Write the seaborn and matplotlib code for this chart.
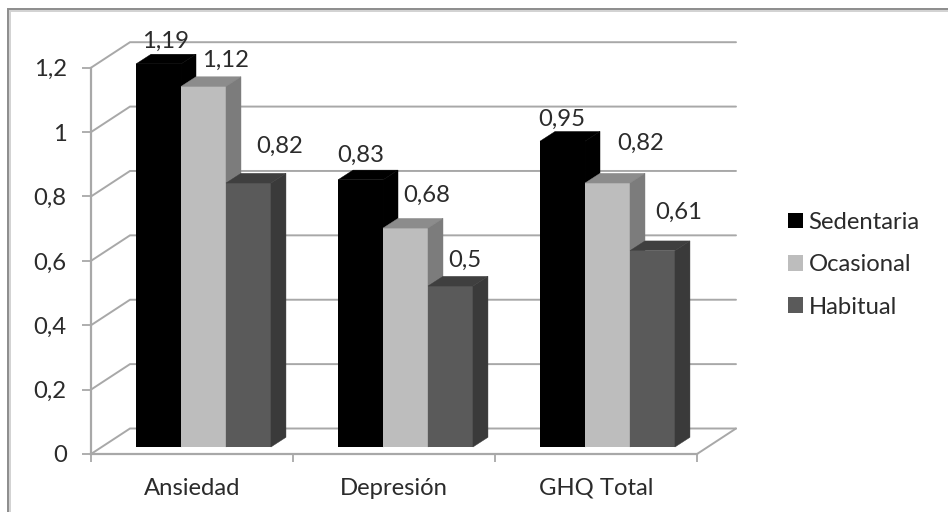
import matplotlib
matplotlib.use("Agg")
import matplotlib.pyplot as plt
from matplotlib.lines import Line2D
from matplotlib.patches import Polygon, Patch
import pandas as pd
import seaborn as sns

categories = ["Ansiedad", "Depresión", "GHQ Total"]
series_names = ["Sedentaria", "Ocasional", "Habitual"]
sedentaria = [1.19, 0.83, 0.95]
ocasional = [1.12, 0.68, 0.82]
habitual = [0.82, 0.50, 0.61]
value_labels = ["1,19", "0,83", "0,95", "1,12", "0,68", "0,82", "0,82", "0,5", "0,61"]
y_ticks = [0, 0.2, 0.4, 0.6, 0.8, 1.0, 1.2]
y_tick_labels = ["0", "0,2", "0,4", "0,6", "0,8", "1", "1,2"]

front_colors = ["#000000", "#BDBDBD", "#5A5A5A"]
top_colors = ["#000000", "#8C8C8C", "#3F3F3F"]
side_colors = ["#000000", "#7C7C7C", "#3A3A3A"]
label_offsets_px = [(7, 23), (0, 24), (-1, 22), (22, 26), (21, 33), (33, 40), (31, 37), (14, 26), (26, 38)]

W, H = 948, 512
GRID = "#A8A8A8"
TEXT = "#2B2B2B"
FS = 17.2

sns.set_theme(style="white")
plt.rcParams["font.family"] = ["Lato", "DejaVu Sans"]

df = pd.DataFrame({
    "cat": categories * 3,
    "serie": [s for s in series_names for _ in categories],
    "valor": sedentaria + ocasional + habitual,
})


def axes_px(fig, left, right, top, bottom, **kw):
    return fig.add_axes([left / W, 1 - bottom / H, (right - left) / W, (bottom - top) / H], **kw)


fig = plt.figure(figsize=(W / 100, H / 100), dpi=100, facecolor="white")
# Frame: only the top and left edges reach into the picture
for offset, colour in [(1.5, "#D2D2D2"), (0, "#8C8C8C")]:
    fig.add_artist(Line2D([(8 + offset) / W, (8 + offset) / W, 1],
                          [0, 1 - (9 + offset) / H, 1 - (9 + offset) / H],
                          transform=fig.transFigure, color=colour, lw=1.4,
                          solid_joinstyle="miter"))

# Main axes: the walls, floor and the tick labels
ax = axes_px(fig, 91, 697, 67.7, 454)
ax.set_xlim(-0.5, 2.5)
ax.set_ylim(0, 1.2)
ax.patch.set_alpha(0)
for s in ["top", "right"]:
    ax.spines[s].set_visible(False)
for s in ["left", "bottom"]:
    ax.spines[s].set_color(GRID)
    ax.spines[s].set_linewidth(1.6)
ax.set_yticks(y_ticks, y_tick_labels, fontsize=FS, color=TEXT)
ax.tick_params(axis="y", left=True, length=6.5, width=1.3, color=GRID, pad=11)
ax.set_xticks([-0.5, 0.5, 1.5, 2.5], ["", "", "", ""])
ax.tick_params(axis="x", which="major", bottom=True, length=6, width=1.3, color=GRID)
ax.set_xticks([0, 1, 2], categories, minor=True, fontsize=FS, color=TEXT)
ax.tick_params(axis="x", which="minor", bottom=False, pad=13)

px_x = 606 / 3
px_y = 386.3 / 1.2
wall_dx = 39 / px_x
wall_dy = 25.5 / px_y
for t in y_ticks:
    ax.plot([-0.5, -0.5 + wall_dx, 2.5 + wall_dx], [t, t + wall_dy, t + wall_dy],
            color=GRID, lw=1.4, clip_on=False, zorder=1, solid_joinstyle="miter")
ax.plot([2.5, 2.5 + wall_dx], [0, wall_dy], color=GRID, lw=1.4, clip_on=False, zorder=1)

# Bars sit on a plane shifted inside the floor
bx = axes_px(fig, 102.5, 708.5, 60.7, 447)
bx.patch.set_alpha(0)
sns.barplot(data=df, x="cat", y="valor", hue="serie", order=categories, hue_order=series_names,
            palette=front_colors, width=0.668, gap=0, saturation=1, errorbar=None,
            legend=False, ax=bx, linewidth=0)
bx.set_xlim(-0.5, 2.5)
bx.set_ylim(0, 1.2)
bx.axis("off")

dx = 15 / px_x
dy = 9.7 / px_y
bars = list(bx.patches)[:9]
for i, b in enumerate(bars):
    hue_i = i // 3
    x0, x1 = b.get_x(), b.get_x() + b.get_width()
    h = b.get_height()
    b.set_zorder(3 + hue_i)
    bx.add_patch(Polygon([(x0, h), (x1, h), (x1 + dx, h + dy), (x0 + dx, h + dy)],
                         facecolor=top_colors[hue_i], edgecolor=top_colors[hue_i], linewidth=0.3,
                         clip_on=False, zorder=3 + hue_i))
    bx.add_patch(Polygon([(x1, 0), (x1 + dx, dy), (x1 + dx, h + dy), (x1, h)],
                         facecolor=side_colors[hue_i], edgecolor=side_colors[hue_i], linewidth=0.3,
                         clip_on=False, zorder=3 + hue_i))
    ox, oy = label_offsets_px[i]
    bx.annotate(value_labels[i], xy=((x0 + x1) / 2, h), xytext=(ox * 0.72, oy * 0.72),
                textcoords="offset points", ha="center", va="center",
                fontsize=FS, color=TEXT, zorder=10, annotation_clip=False)

handles = [Patch(facecolor=c, edgecolor="none") for c in front_colors]
fig.legend(handles, series_names, loc="upper left",
           bbox_to_anchor=(788 / W, 1 - 212 / H), frameon=False, fontsize=FS,
           handlelength=0.63, handleheight=0.63, handletextpad=0.23,
           labelspacing=0.89, labelcolor=TEXT, borderpad=0, borderaxespad=0)

fig.savefig("out.png", dpi=100, facecolor="white")
